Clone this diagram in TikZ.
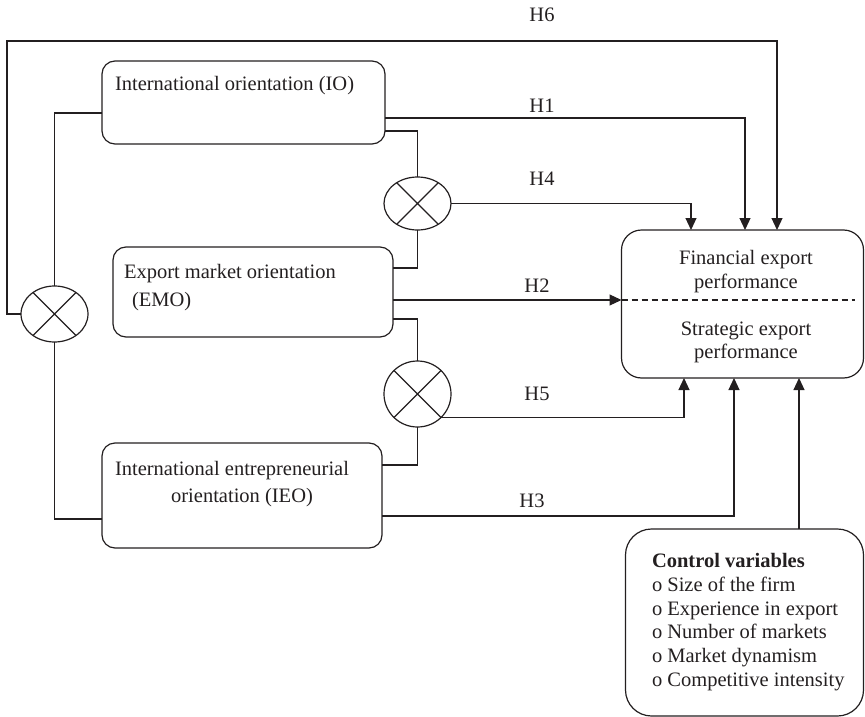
\documentclass[tikz,border=0pt]{standalone}
\usepackage{fontspec}
\setmainfont{Liberation Serif}
\usetikzlibrary{arrows.meta,shapes.geometric}
\definecolor{ink}{RGB}{35,31,32}
\begin{document}
\begin{tikzpicture}[x=1pt,y=-1pt,
  every node/.style={inner sep=0pt,outer sep=0pt,text=ink},
  line/.style={draw=ink,line width=1.2pt},
  arr/.style={line,-{Triangle[length=12pt,width=11pt]}},
  rbox/.style={line,rectangle,rounded corners=#1},
  rbox/.default=13pt,
  xnode/.style={line,ellipse},
  txt/.style={font=\fontsize{20.5}{24}\selectfont},
  lab/.style={txt,anchor=base},
  lw/.style={txt,anchor=base west}
]
\useasboundingbox (0,0) rectangle (865,717);
% boxes
\node[rbox, minimum width=283pt, minimum height=83pt] (io) at (243.5,102.5) {};
\node[rbox, minimum width=280pt, minimum height=90pt] (emo) at (253,292) {};
\node[rbox, minimum width=280pt, minimum height=105pt] (ieo) at (242,495.5) {};
\node[rbox=20pt, minimum width=242pt, minimum height=148pt] (fep) at (742.5,304) {};
\node[rbox=26pt, minimum width=238pt, minimum height=187pt] (ctrl) at (744.5,622.5) {};
% multiplication circles
\node[xnode, minimum width=67pt, minimum height=53pt] (c1) at (417.5,203.5) {};
\node[xnode, minimum width=67pt, minimum height=66pt] (c2) at (417.5,394) {};
\node[xnode, minimum width=67pt, minimum height=56pt] (c0) at (54.5,314) {};
\foreach \c in {c0,c1,c2}{
  \draw[line] (\c.45) -- (\c.225) (\c.135) -- (\c.315);
}
% texts
\node[lw] (iot) at (115,91) {International orientation (IO)};
\node[lw] (emot1) at (124,278) {Export market orientation};
\node[lw] (emot2) at (132,306) {(EMO)};
\node[lab] (ieot1) at (232,475) {International entrepreneurial};
\node[lab] (ieot2) at (242,502) {orientation (IEO)};
\node[lab] (fept1) at (746,264) {Financial export};
\node[lab] (fept2) at (746,288) {performance};
\node[lab] (fept3) at (746,335) {Strategic export};
\node[lab] (fept4) at (746,358) {performance};
\node[lw] (ct0) at (652,567) {\textbf{Control variables}};
\node[lw] (ct1) at (652,591) {o Size of the firm};
\node[lw] (ct2) at (652,615) {o Experience in export};
\node[lw] (ct3) at (652,638) {o Number of markets};
\node[lw] (ct4) at (652,662) {o Market dynamism};
\node[lw] (ct5) at (652,686) {o Competitive intensity};
% hypothesis labels
\node[lab] (h6) at (542,22) {H6};
\node[lab] (h1) at (542,113) {H1};
\node[lab] (h4) at (542,185) {H4};
\node[lab] (h2) at (537,292) {H2};
\node[lab] (h5) at (537,400) {H5};
\node[lab] (h3) at (532,507) {H3};
% dashed separator
\draw[draw=ink,line width=1.2pt,dash pattern=on 6pt off 4pt] (fep.west |- 0,300) -- (855,300);
% connectors
\coordinate (h6corner) at (7,41);
\draw[arr] (c0.west) -| (h6corner) -| (fep.north -| 777,0);
\draw[arr] (io.east |- 0,118) -| (fep.north -| 745,0);
\draw[line] (io.east |- 0,131) -| (c1.north);
\draw[arr] (c1.east) -| (fep.north -| 691,0);
\draw[line] (emo.east |- 0,268) -| (c1.south);
\draw[arr] (emo.east |- 0,300) -- (fep.west |- 0,300);
\draw[line] (emo.east |- 0,319) -| (c2.north);
\draw[arr] (c2.-45) -| (fep.south -| 684,0);
\draw[line] (c2.south) |- (ieo.east |- 0,465);
\draw[arr] (ieo.east |- 0,516) -| (fep.south -| 734,0);
\draw[arr] (ctrl.north -| 799,0) -- (fep.south -| 799,0);
\draw[line] (io.west |- 0,113) -| (c0.north);
\draw[line] (ieo.west |- 0,519) -| (c0.south);
\end{tikzpicture}
\end{document}
